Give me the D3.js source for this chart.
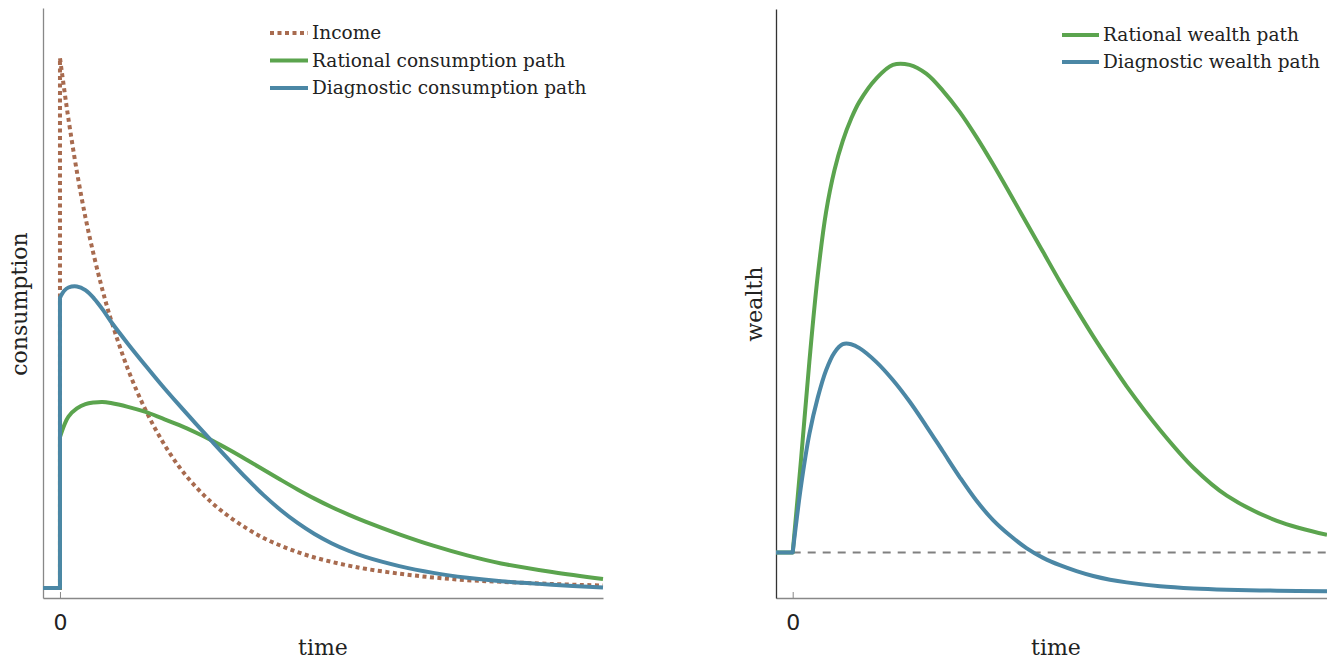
<!DOCTYPE html>
<html>
<head>
<meta charset="utf-8">
<script src="https://cdn.jsdelivr.net/npm/d3@7"></script>
<style>
  body { margin: 0; background: #fff; }
  svg { display: block; }
</style>
</head>
<body>
<div id="chart"></div>
<script>
// time grid before the shock (flat steady state)
var preTime = [-1, 0];

// consumption panel, values
var consTime = [0, 0.25, 0.5, 1, 1.5, 2, 2.5, 3, 4, 5, 6, 7, 8, 9, 10, 11, 12, 13, 14, 15, 16, 17, 18, 20, 22, 24, 26, 29, 32];
var incomePre = [1.85, 1.85];
var income = [100, 94.2, 88.7, 78.9, 70.5, 63.4, 57.1, 51.6, 42.4, 35.1, 29.2, 24.4, 20.6, 17.5, 15.0, 12.9, 11.1, 9.7, 8.5, 7.5, 6.7, 6.0, 5.4, 4.5, 3.8, 3.3, 3.0, 2.6, 2.3];
var rationalConsPre = [1.85, 1.85];
var rationalCons = [29.8, 32.0, 33.6, 35.1, 35.9, 36.2, 36.3, 36.1, 35.4, 34.5, 33.3, 32.05, 30.65, 29.1, 27.4, 25.6, 23.75, 21.9, 20.1, 18.4, 16.85, 15.45, 14.15, 11.8, 9.7, 7.9, 6.4, 4.8, 3.5];
var diagConsPre = [1.85, 1.85];
var diagCons = [55.6, 56.9, 57.5, 57.7, 57.0, 55.5, 53.5, 51.2, 47.1, 43.2, 39.4, 35.8, 32.3, 28.85, 25.45, 22.15, 19.05, 16.3, 13.9, 11.85, 10.15, 8.75, 7.6, 5.9, 4.65, 3.75, 3.1, 2.45, 1.95];

// wealth panel
var wealthTime = [0, 0.5, 1, 1.5, 2, 2.5, 3, 3.5, 4, 5, 6, 7, 8, 9, 10, 11, 12, 13, 14, 15, 16, 17, 18, 19, 20, 22, 24, 26, 29, 32];
var wealthPre = [0, 0];
var rationalWealth = [0, 19, 39, 56.5, 69.5, 78, 84, 88.5, 92.0, 96.7, 99.5, 99.5, 97.7, 94.2, 89.9, 84.8, 79.2, 73.3, 67.3, 61.3, 55.3, 49.6, 44.1, 38.9, 33.9, 25.0, 17.3, 11.6, 6.45, 3.6];
var diagWealth = [0, 13.6, 24.2, 31.6, 37.2, 40.8, 42.5, 42.5, 41.7, 38.9, 35.2, 30.8, 25.8, 20.6, 15.4, 10.6, 6.6, 3.5, 0.9, -1.1, -2.6, -3.8, -4.8, -5.55, -6.1, -6.9, -7.35, -7.6, -7.8, -7.9];

var tickTimes = [0];
var consLegend = ["Income", "Rational consumption path", "Diagnostic consumption path"];
var wealthLegend = ["Rational wealth path", "Diagnostic wealth path"];

var colIncome = "#a86b4f", colRational = "#5ba44e", colDiag = "#4b87a5";

var W = 1327, H = 659;
var svg = d3.select("#chart").append("svg")
    .attr("width", W)
    .attr("height", H);

var serif = "'DejaVu Serif', serif";

// scales
var xL = d3.scaleLinear().domain([-1, 32]).range([43, 603]);
var yL = d3.scaleLinear().domain([0, 109.26]).range([598, 8]);
var xR = d3.scaleLinear().domain([-1, 32]).range([776, 1327]);
var yR = d3.scaleLinear().domain([-9.29, 110.9]).range([598, 9]);

// flat part drawn straight, the rest smooth, glued into one path
function stepPath(x, y, preV, t, v) {
    var straight = d3.line().x(function(d) { return x(d[0]); }).y(function(d) { return y(d[1]); });
    var smooth = d3.line().curve(d3.curveCatmullRom.alpha(0.5))
        .x(function(d) { return x(d[0]); }).y(function(d) { return y(d[1]); });
    var a = straight(d3.zip(preTime, preV));
    var b = smooth(d3.zip(t, v));
    return a + b.replace(/^M/, "L");
}

function drawAxes(x, y, axisColor, yColor) {
    var gx = svg.append("g")
        .attr("transform", "translate(0," + y.range()[0] + ")")
        .call(d3.axisBottom(x).tickValues(tickTimes).tickSize(-6).tickSizeOuter(0).tickPadding(16).tickFormat(d3.format("d")));
    gx.select(".domain").attr("stroke", axisColor).attr("stroke-width", 1.5);
    gx.selectAll(".tick line").attr("stroke", axisColor).attr("stroke-width", 1);
    gx.selectAll(".tick text")
        .attr("font-family", "'DejaVu Sans', sans-serif")
        .attr("font-size", 22)
        .attr("fill", "#222");
    var gy = svg.append("g")
        .attr("transform", "translate(" + x.range()[0] + ",0)")
        .call(d3.axisLeft(y).tickValues([]).tickSizeOuter(0));
    gy.select(".domain").attr("stroke", yColor).attr("stroke-width", 1.3);
}

drawAxes(xL, yL, "#888", "#888");
drawAxes(xR, yR, "#888", "#333");

// ---- consumption panel
svg.append("path")
    .attr("d", stepPath(xL, yL, incomePre, consTime, income))
    .attr("fill", "none")
    .attr("stroke", colIncome)
    .attr("stroke-width", 4)
    .attr("stroke-dasharray", "4,3.5");

svg.append("path")
    .attr("d", stepPath(xL, yL, rationalConsPre, consTime, rationalCons))
    .attr("fill", "none")
    .attr("stroke", colRational)
    .attr("stroke-width", 4)
    .attr("stroke-linejoin", "round");

svg.append("path")
    .attr("d", stepPath(xL, yL, diagConsPre, consTime, diagCons))
    .attr("fill", "none")
    .attr("stroke", colDiag)
    .attr("stroke-width", 4)
    .attr("stroke-linejoin", "round");

// ---- wealth panel
svg.append("line")
    .attr("x1", xR(0)).attr("x2", xR.range()[1])
    .attr("y1", yR(0)).attr("y2", yR(0))
    .attr("stroke", "#808080")
    .attr("stroke-width", 2)
    .attr("stroke-dasharray", "8,7");

svg.append("path")
    .attr("d", stepPath(xR, yR, wealthPre, wealthTime, rationalWealth))
    .attr("fill", "none")
    .attr("stroke", colRational)
    .attr("stroke-width", 4)
    .attr("stroke-linejoin", "round");

svg.append("path")
    .attr("d", stepPath(xR, yR, wealthPre, wealthTime, diagWealth))
    .attr("fill", "none")
    .attr("stroke", colDiag)
    .attr("stroke-width", 4)
    .attr("stroke-linejoin", "round");

// axis titles
svg.append("text").attr("x", 323).attr("y", 655).attr("text-anchor", "middle")
    .attr("font-family", serif).attr("font-size", 22).attr("fill", "#222").text("time");
svg.append("text").attr("x", 1056).attr("y", 655).attr("text-anchor", "middle")
    .attr("font-family", serif).attr("font-size", 22).attr("fill", "#222").text("time");
svg.append("text").attr("transform", "translate(27,304) rotate(-90)").attr("text-anchor", "middle")
    .attr("font-family", serif).attr("font-size", 22).attr("fill", "#222").text("consumption");
svg.append("text").attr("transform", "translate(762,304) rotate(-90)").attr("text-anchor", "middle")
    .attr("font-family", serif).attr("font-size", 22).attr("fill", "#222").text("wealth");

// legends
function legend(items, colors, dashes, x0, x1, tx, y0, step) {
    var g = svg.append("g");
    var rows = g.selectAll("g").data(items).enter().append("g")
        .attr("transform", function(d, i) { return "translate(0," + (y0 + i * step) + ")"; });
    rows.append("line")
        .attr("x1", x0).attr("x2", x1)
        .attr("stroke", function(d, i) { return colors[i]; })
        .attr("stroke-width", 4)
        .attr("stroke-dasharray", function(d, i) { return dashes[i]; });
    rows.append("text")
        .attr("x", tx).attr("y", 6)
        .attr("font-family", serif).attr("font-size", 18.5).attr("fill", "#222")
        .text(function(d) { return d; });
}
legend(consLegend, [colIncome, colRational, colDiag], ["4,3.5", null, null], 270, 308, 312, 33, 27.5);
legend(wealthLegend, [colRational, colDiag], [null, null], 1062, 1099, 1103, 35, 27);
</script>
</body>
</html>
